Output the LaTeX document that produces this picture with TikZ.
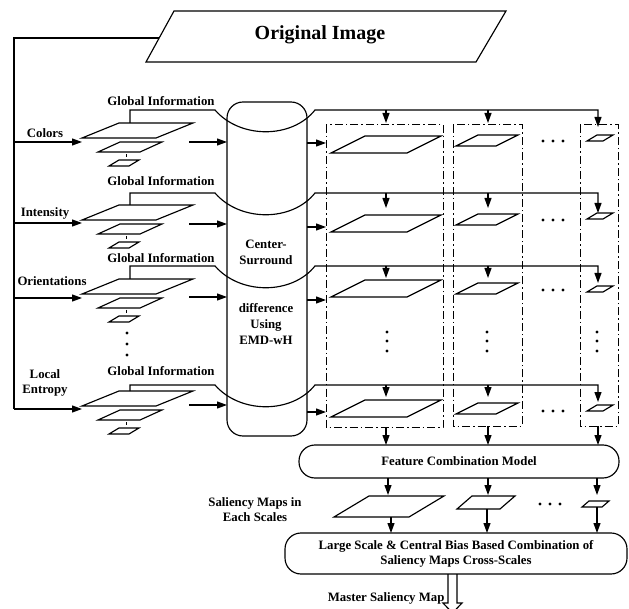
\documentclass[tikz,border=0pt]{standalone}
\usepackage{fontspec}
\setmainfont{Liberation Serif}
\usetikzlibrary{arrows.meta,calc}
\newcommand{\pgm}[5]{\draw (#1,#2) -- ++(#3,0) -- ++(#4,-#5) -- ++(-#3,0) -- cycle;}
\begin{document}
\begin{tikzpicture}[x=1pt,y=-1pt,line width=1.15pt,
  arr/.style={-{Triangle[length=10pt,width=7pt]}},
  lbl/.style={font=\fontsize{12.8}{15}\selectfont\bfseries,inner sep=0pt,align=center},
  dd/.style={dash pattern=on 8pt off 3pt on 1.5pt off 3pt,line width=1pt},
  rbox/.style={draw,rounded corners=16pt,inner sep=0pt},
  dot/.style={circle,fill,inner sep=0pt,minimum size=3.4pt}]
\useasboundingbox (0,0) rectangle (629,609);

% Original image
\draw (174,11) -- (506,11) -- (476,62) -- (146,62) -- cycle;
\node[lbl,font=\fontsize{20}{24}\selectfont\bfseries] (orig) at (320,35) {Original Image};
\coordinate (oleft) at (159,38);
\coordinate (corner) at (14,38);
\draw (oleft) -- (corner) -- (14,409);

% left labels
\node[lbl] (colors) at (45,133) {Colors};
\node[lbl] (intensity) at (45,213) {Intensity};
\node[lbl] (orient) at (52,281) {Orientations};
\node[lbl] (entropy) at (45,383) {Local\\Entropy};

% cylinder
\node[rbox,minimum width=80pt,minimum height=334pt] (cyl) at (267,269) {};
\node[lbl,font=\fontsize{12.8}{16}\selectfont\bfseries] (cs) at (266,252) {Center-\\Surround};
\node[lbl,font=\fontsize{12.8}{16}\selectfont\bfseries] (emd) at (266,324) {difference\\Using\\EMD-wH};

% dash-dot boxes
\draw[dd] (326,125) rectangle (443,427);
\draw[dd] (453,125) rectangle (522,426);
\draw[dd] (580,125) rectangle (618,426);

% rows
\foreach \bt/\la/\ca/\gy/\gl/\ta/\tb/\ba/\bb/\bc/\bd/\dy in {
  123/142/142/101/110/123/127/143/153/146/141/141,
  205/223/224/181/193/208/213/227/232/225/219/220,
  279/298/297/258/266/278/283/300/297/294/292/290,
  391/409/405/371/385/397/402/412/417/414/411/411}{
  % left stack
  \coordinate (in) at (82,\la);
  \draw[arr] (14,\la) -- (in);
  \pgm{82}{\bt+15}{74}{37}{15}
  \pgm{98}{\bt+29}{42}{22}{10}
  \draw[line width=0.6pt] (126,\bt+31) -- (126,\bt+34);
  \pgm{109}{\bt+43}{20}{10}{6}
  \draw[arr] (189,\ca) -- (227,\ca);
  % global information
  \node[lbl] (gi) at (161,\gy) {Global Information};
  \draw[arr] (130,\bt) -- (130,\gl) -- (215,\gl) .. controls (240,\gl+29) and (292,\gl+29) .. (315,\gl) -- (598,\gl) -- (598,\tb);
  \draw[arr] (386,\gl) -- (386,\ta);
  \draw[arr] (488,\gl) -- (488,\ta);
  % right side
  \draw[arr] (307,\ba) -- (326,\ba);
  \pgm{331}{\bb}{76}{34}{17}
  \pgm{456}{\bc}{40}{22}{11}
  \pgm{587}{\bd}{16}{10}{6}
  \foreach \xx in {543,553,563} \node[dot] at (\xx,\dy) {};
}

% vertical dots
\foreach \yy in {333,344,355} \node[dot] at (127,\yy) {};
\foreach \xx in {387,487,597} \foreach \yy in {332,341,351} \node[dot] at (\xx,\yy) {};

% feature combination
\node[rbox,minimum width=320pt,minimum height=33pt,lbl] (fcm) at (459,461.5) {Feature Combination Model};
\draw[arr] (386,427) -- (386,445);
\draw[arr] (488,426) -- (488,445);
\draw[arr] (598,426) -- (598,445);
\draw[arr] (388,478) -- (388,495);
\draw[arr] (488,478) -- (488,495);
\draw[arr] (597,478) -- (597,495);

% saliency maps
\node[lbl] (smaps) at (255,509.5) {Saliency Maps in\\Each Scales};
\pgm{334}{517}{75}{35}{21}
\pgm{457}{509}{43}{15}{13}
\pgm{582}{507}{20}{7}{6}
\foreach \xx in {540,550,560} \node[dot] at (\xx,504) {};

% large scale box
\node[rbox,minimum width=342pt,minimum height=41pt,lbl] (lsb) at (456,553.5) {Large Scale \& Central Bias Based Combination of\\Saliency Maps Cross-Scales};
\draw[arr] (391,517) -- (391,533);
\draw[arr] (487,509) -- (487,533);
\draw[arr] (597,507) -- (597,533);

% master saliency map
\node[lbl,anchor=east] (msm) at (445,598) {Master Saliency Map};
\draw (448,574) -- (448,603) -- (443,603) -- (452.5,613) -- (462,603) -- (457,603) -- (457,574);
\end{tikzpicture}
\end{document}
